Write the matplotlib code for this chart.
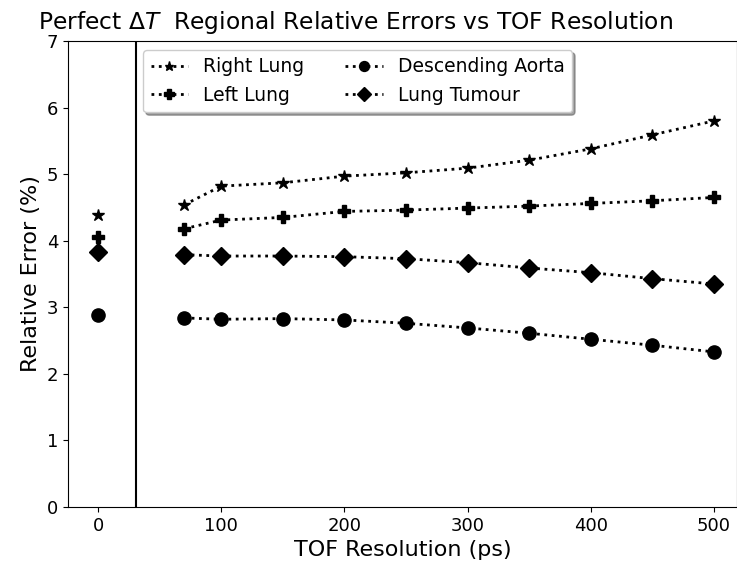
import matplotlib
matplotlib.use("Agg")
import matplotlib.pyplot as plt

tof = [70, 100, 150, 200, 250, 300, 350, 400, 450, 500]
perfect_x = [0]

right_lung_perfect = [4.38]
left_lung_perfect = [4.06]
aorta_perfect = [2.88]
tumour_perfect = [3.83]

right_lung = [4.54, 4.82, 4.87, 4.97, 5.02, 5.09, 5.21, 5.38, 5.59, 5.80]
left_lung = [4.18, 4.31, 4.35, 4.44, 4.46, 4.49, 4.52, 4.56, 4.60, 4.65]
aorta = [2.84, 2.82, 2.83, 2.81, 2.76, 2.69, 2.61, 2.52, 2.43, 2.33]
tumour = [3.79, 3.77, 3.77, 3.76, 3.73, 3.67, 3.59, 3.52, 3.43, 3.35]

fig = plt.figure(figsize=(7.37, 5.71), dpi=100)
ax = fig.add_axes([68/737, 1-507/571, 1-68/737, (507-41)/571])

ms = 9
ax.plot(tof, right_lung, ':*', color='k', lw=2, ms=ms, label='Right Lung')
ax.plot(tof, left_lung, ':P', color='k', lw=2, ms=ms, label='Left Lung')
ax.plot(tof, aorta, ':o', color='k', lw=2, ms=ms+0.5, label='Descending Aorta')
ax.plot(tof, tumour, ':D', color='k', lw=2, ms=ms, label='Lung Tumour')

ax.plot(perfect_x, right_lung_perfect, '*', color='k', ms=ms)
ax.plot(perfect_x, left_lung_perfect, 'P', color='k', ms=ms)
ax.plot(perfect_x, aorta_perfect, 'o', color='k', ms=ms+0.5)
ax.plot(perfect_x, tumour_perfect, 'D', color='k', ms=ms)

ax.axvline(31, color='k', lw=1.5)

ax.set_xlim(-24.4, 518.7)
ax.set_ylim(0, 7)
ax.set_xticks([0, 100, 200, 300, 400, 500])
ax.tick_params(labelsize=13)
ax.set_xlabel('TOF Resolution (ps)', fontsize=16)
ax.set_ylabel('Relative Error (%)', fontsize=16)

fig.text(38/737, 1-22/571, r'Perfect $\Delta T$  Regional Relative Errors vs TOF Resolution',
         fontsize=16.8, va='center', ha='left')

ax.legend(ncol=2, loc='upper left', bbox_to_anchor=((143-68)/669, 1-(50-41)/466),
          borderaxespad=0, fontsize=13.5, markerscale=0.75, columnspacing=2.2,
          fancybox=True, shadow=True, framealpha=1)

fig.savefig('out.png', dpi=100)
